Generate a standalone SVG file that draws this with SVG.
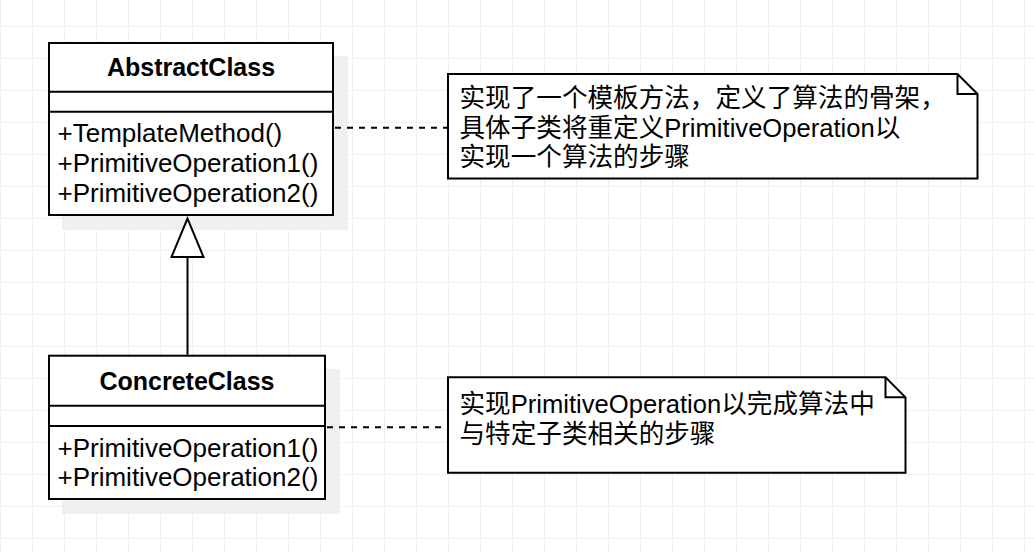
<svg xmlns="http://www.w3.org/2000/svg" width="1034" height="552" viewBox="0 0 1034 552">
<style>
.box{fill:#fff;stroke:#000;stroke-width:2}
.shadow{fill:#f0f0f0;stroke:none}
.div{stroke:#000;stroke-width:2;fill:none}
.txt{font-family:"Liberation Sans","Noto Sans CJK SC",Arial,sans-serif;font-size:25.6px;fill:#000}
.m{font-size:26px}
.title{font-family:"Liberation Sans",Arial,sans-serif;font-size:25px;font-weight:bold;fill:#000;text-anchor:middle}
.dash{stroke:#000;stroke-width:2;fill:none;stroke-dasharray:6 6}
.line{stroke:#000;stroke-width:2;fill:none}
</style>
<defs>
<pattern id="grid" x="0" y="26" width="32" height="32" patternUnits="userSpaceOnUse">
<rect x="0" y="0" width="32" height="1" fill="#f0f0f0"/>
<rect x="0" y="0" width="1" height="32" fill="#f0f0f0"/>
</pattern>
</defs>
<rect x="0" y="0" width="1034" height="552" fill="#fff"/>
<rect x="0" y="0" width="1034" height="552" fill="url(#grid)"/>

<g id="AbstractClass">
<rect class="shadow" x="62" y="56" width="286" height="174"/>
<rect class="box" x="49" y="43" width="284" height="172"/>
<line class="div" x1="49" y1="91.7" x2="333" y2="91.7"/>
<line class="div" x1="49" y1="111.7" x2="333" y2="111.7"/>
<text class="title" x="191" y="76">AbstractClass</text>
<text class="txt m" x="57.5" y="142">+TemplateMethod()</text>
<text class="txt m" x="57.5" y="172">+PrimitiveOperation1()</text>
<text class="txt m" x="57.5" y="201.7">+PrimitiveOperation2()</text>
</g>

<g id="ConcreteClass">
<rect class="shadow" x="62" y="369" width="278" height="145"/>
<rect class="box" x="49" y="355.7" width="276" height="143.3"/>
<line class="div" x1="49" y1="405.7" x2="325" y2="405.7"/>
<line class="div" x1="49" y1="426" x2="325" y2="426"/>
<text class="title" x="187" y="390">ConcreteClass</text>
<text class="txt m" x="57.5" y="456.5">+PrimitiveOperation1()</text>
<text class="txt m" x="57.5" y="486">+PrimitiveOperation2()</text>
</g>

<g id="note1">
<path class="box" d="M448 74 H957.5 L977.5 94 V178.5 H448 Z"/>
<path class="line" d="M957.5 74 V94 H977.5"/>
<text class="txt" x="459.5" y="107">实现了一个模板方法，定义了算法的骨架，</text>
<text class="txt" x="459.5" y="136.5">具体子类将重定义PrimitiveOperation以</text>
<text class="txt" x="459.5" y="166">实现一个算法的步骤</text>
</g>

<g id="note2">
<path class="box" d="M448 377.3 H885.5 L905.5 397.3 V472.7 H448 Z"/>
<path class="line" d="M885.5 377.3 V397.3 H905.5"/>
<text class="txt" x="459.5" y="413">实现PrimitiveOperation以完成算法中</text>
<text class="txt" x="459.5" y="442.5">与特定子类相关的步骤</text>
</g>

<g id="connectors">
<line class="dash" x1="335" y1="127.7" x2="447" y2="127.7"/>
<line class="dash" x1="327" y1="427.3" x2="447" y2="427.3"/>
<line class="line" x1="187.5" y1="257" x2="187.5" y2="354.7"/>
<polygon class="box" points="187.5,218.5 171.5,257 203.5,257"/>
</g>
</svg>
